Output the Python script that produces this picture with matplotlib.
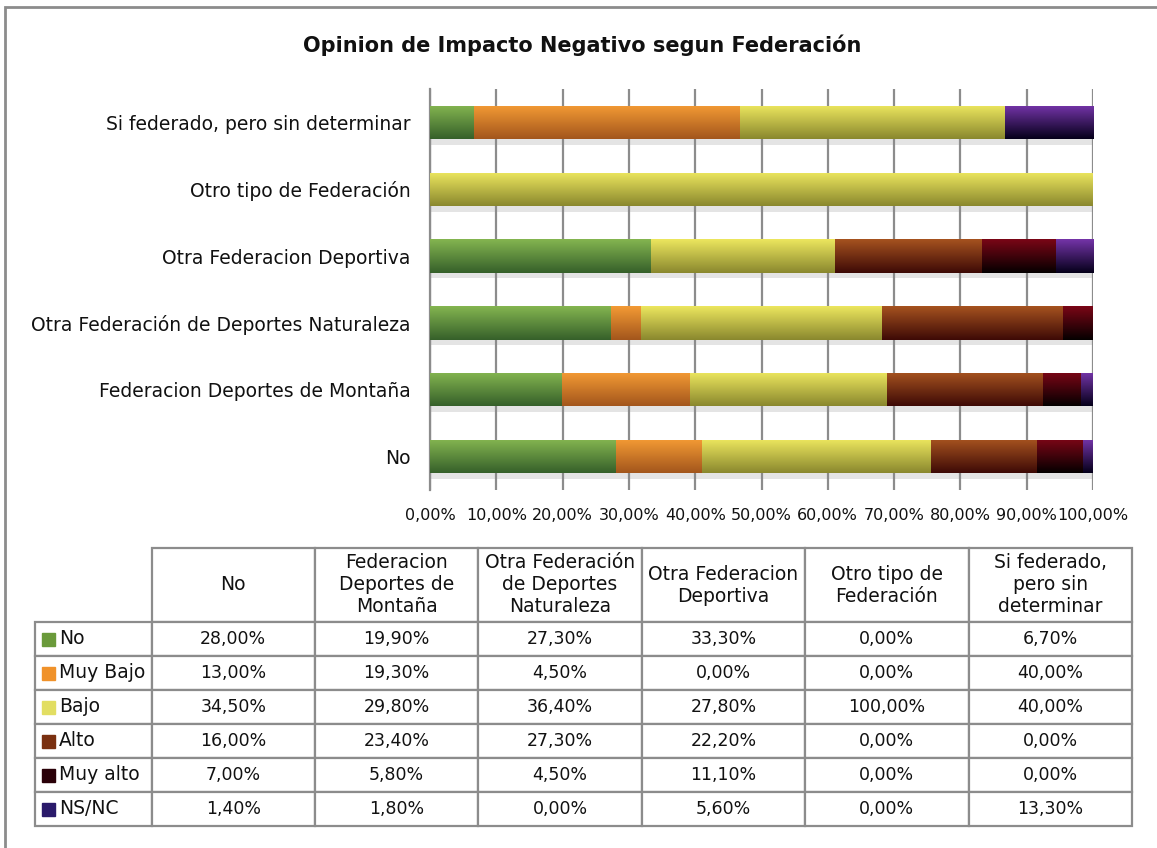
#Opinion de Impacto Negativo segun Federacion
#100% stacked horizontal bar chart with the data table below it (Excel style)

import numpy as np
import matplotlib.pyplot as plt
import matplotlib.patheffects as pe
from matplotlib.colors import LinearSegmentedColormap
from matplotlib.patches import Rectangle
from matplotlib.table import Table

#categories, bottom to top in the chart (same order as the table columns)
federaciones = ['No', 'Federacion Deportes de Montaña', 'Otra Federación de Deportes Naturaleza',
                'Otra Federacion Deportiva', 'Otro tipo de Federación', 'Si federado, pero sin determinar']
#table headers, wrapped like in the original
cabeceras = ['No', 'Federacion\nDeportes de\nMontaña', 'Otra Federación\nde Deportes\nNaturaleza',
             'Otra Federacion\nDeportiva', 'Otro tipo de\nFederación', 'Si federado,\npero sin\ndeterminar']
opiniones = ['No', 'Muy Bajo', 'Bajo', 'Alto', 'Muy alto', 'NS/NC']

#percentages per opinion, one value per federacion
no = [28.0, 19.9, 27.3, 33.3, 0.0, 6.7]
muy_bajo = [13.0, 19.3, 4.5, 0.0, 0.0, 40.0]
bajo = [34.5, 29.8, 36.4, 27.8, 100.0, 40.0]
alto = [16.0, 23.4, 27.3, 22.2, 0.0, 0.0]
muy_alto = [7.0, 5.8, 4.5, 11.1, 0.0, 0.0]
ns_nc = [1.4, 1.8, 0.0, 5.6, 0.0, 13.3]
series = [no, muy_bajo, bajo, alto, muy_alto, ns_nc]

#gradient colours (top, bottom) for the bars and flat colour for the table keys
gradientes = [('#84b550', '#36602a'), ('#f39a34', '#a3561c'), ('#ece65e', '#8a882e'),
              ('#a5521f', '#3e0a06'), ('#7a0616', '#050000'), ('#7434a8', '#05001a')]
claves = ['#6a9a3a', '#f0922a', '#e2de62', '#7a3010', '#2a0008', '#2a1a6a']
gris = '#8c8c8c'

def pct(v):
    return f'{v:.2f}%'.replace('.', ',')

W, H = 1157, 848
fig = plt.figure(figsize=(W / 100, H / 100), dpi=100)

#outer frame of the excel object
fig.add_artist(Rectangle((5 / W, -0.1), 1.2, 1.1 - 7 / H, transform=fig.transFigure,
                         fill=False, ec=gris, lw=2))

fig.text(582 / W, 1 - 45 / H, 'Opinion de Impacto Negativo segun Federación',
         ha='center', va='center', fontsize=15, fontweight='bold', color='#111111')

#bar chart
ax = fig.add_axes([430 / W, 1 - 490 / H, 663 / W, 401 / H])
y = np.arange(len(federaciones))
left = np.zeros(len(federaciones))
grad = np.linspace(0, 1, 64).reshape(-1, 1)
sombra = [pe.SimplePatchShadow(offset=(1, -4), shadow_rgbFace='#888888', alpha=0.22), pe.Normal()]
for serie, (c_top, c_bot) in zip(series, gradientes):
    barras = ax.barh(y, serie, left=left, height=0.5, color=c_top, linewidth=0,
                     zorder=3, path_effects=sombra)
    cmap = LinearSegmentedColormap.from_list('g', [c_bot, c_top])
    for b in barras:
        if b.get_width() <= 0:
            continue
        im = ax.imshow(grad, cmap=cmap, origin='lower', aspect='auto', zorder=4,
                       extent=[b.get_x(), b.get_x() + b.get_width(),
                               b.get_y(), b.get_y() + b.get_height()])
        im.set_clip_path(b)
    left += np.array(serie)

ax.set_xlim(0, 100)
ax.set_ylim(-0.5, len(federaciones) - 0.5)
ticks = np.arange(0, 101, 10)
ax.set_xticks(ticks)
ax.set_xticklabels([pct(t) for t in ticks])
ax.set_yticks(y)
ax.set_yticklabels(federaciones)
ax.tick_params(axis='y', length=0, pad=14, labelsize=13.5, labelcolor='#111111')
ax.tick_params(axis='x', length=0, pad=13, labelsize=11.5, labelcolor='#111111')
ax.xaxis.grid(True, color=gris, lw=1.6)
ax.set_axisbelow(True)
for s in ['top', 'right', 'bottom']:
    ax.spines[s].set_visible(False)
ax.spines['left'].set_color(gris)
ax.spines['left'].set_linewidth(1.6)

#data table
tax = fig.add_axes([35 / W, 1 - 826 / H, 1097 / W, 278 / H])
tax.axis('off')
tb = Table(tax, bbox=[0, 0, 1, 1])
for j, cab in enumerate(cabeceras):
    tb.add_cell(0, j + 1, width=164, height=74, text=cab, loc='center')
for i, (op, serie) in enumerate(zip(opiniones, series)):
    c = tb.add_cell(i + 1, 0, width=117, height=34, text=op, loc='left')
    c.PAD = 0.205
    for j, v in enumerate(serie):
        tb.add_cell(i + 1, j + 1, width=164, height=34, text=pct(v), loc='center')
tb.auto_set_font_size(False)
tb.set_fontsize(12.5)
for (r, col), cell in tb.get_celld().items():
    cell.set_edgecolor(gris)
    cell.set_linewidth(1.6)
    cell.get_text().set_color('#111111')
    if r == 0 or col == 0:
        cell.get_text().set_fontsize(13.5)
tax.add_table(tb)

#coloured keys in front of the row labels
fig.canvas.draw()
for i, col in enumerate(claves):
    c = tb[i + 1, 0]
    h = 13 / 278
    tax.add_patch(Rectangle((c.get_x() + 7 / 1097, c.get_y() + (c.get_height() - h) / 2),
                            13 / 1097, h, transform=tax.transAxes, color=col, clip_on=False))

fig.savefig('out.png', dpi=100)
